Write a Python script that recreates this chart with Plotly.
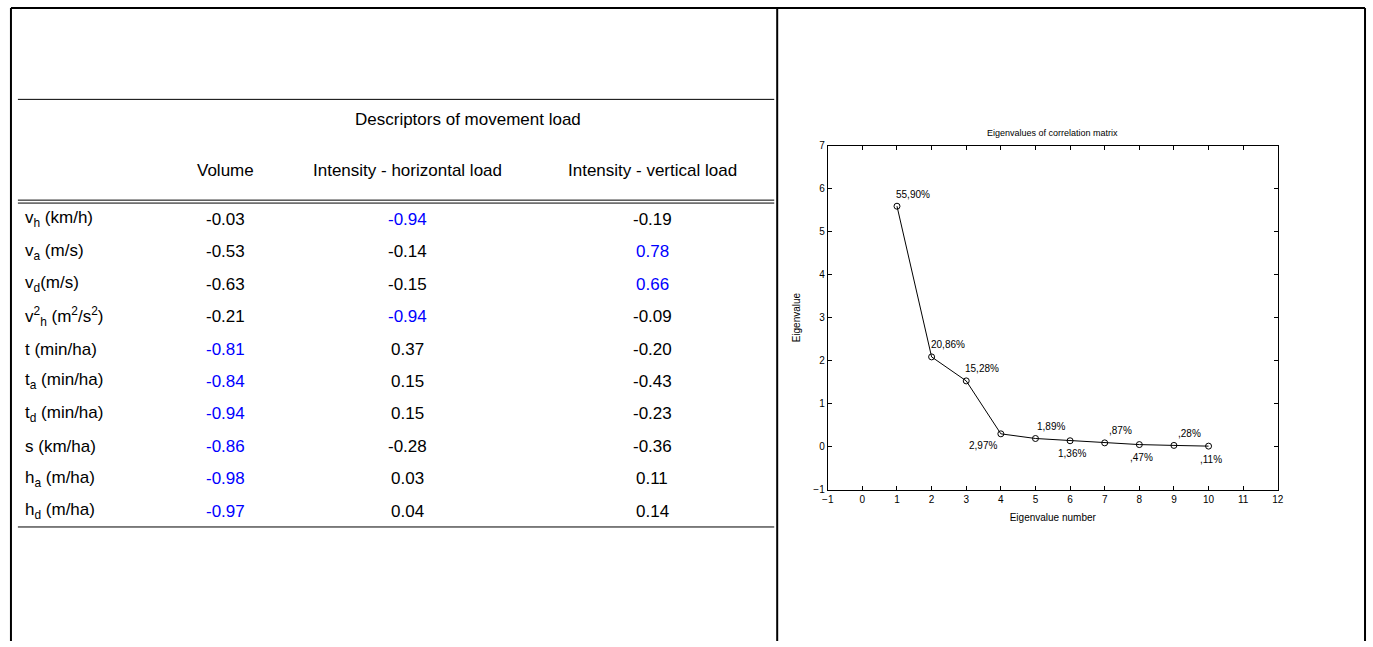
import plotly.graph_objects as go

# table data
row_labels = ["v<sub>h</sub> (km/h)", "v<sub>a</sub> (m/s)", "v<sub>d</sub>(m/s)",
              "v<sup>2</sup><sub>h</sub> (m<sup>2</sup>/s<sup>2</sup>)", "t (min/ha)",
              "t<sub>a</sub> (min/ha)", "t<sub>d</sub> (min/ha)", "s (km/ha)",
              "h<sub>a</sub> (m/ha)", "h<sub>d</sub> (m/ha)"]
col_headers = ["Volume", "Intensity - horizontal load", "Intensity - vertical load"]
volume = [-0.03, -0.53, -0.63, -0.21, -0.81, -0.84, -0.94, -0.86, -0.98, -0.97]
horizontal = [-0.94, -0.14, -0.15, -0.94, 0.37, 0.15, 0.15, -0.28, 0.03, 0.04]
vertical = [-0.19, 0.78, 0.66, -0.09, -0.20, -0.43, -0.23, -0.36, 0.11, 0.14]

# scree plot data
eig_number = [1, 2, 3, 4, 5, 6, 7, 8, 9, 10]
eigenvalues = [5.59, 2.086, 1.528, 0.297, 0.189, 0.136, 0.087, 0.047, 0.028, 0.011]
pct_labels = ["55,90%", "20,86%", "15,28%", "2,97%", "1,89%", "1,36%", ",87%", ",47%", ",28%", ",11%"]
label_above = [True, True, True, False, True, False, True, False, True, False]

W, H = 1373, 647
def px(x): return x / W
def py(y): return 1 - y / H

fig = go.Figure()
fig.add_trace(go.Scatter(x=eig_number, y=eigenvalues, mode="lines+markers",
                         line=dict(color="black", width=1),
                         marker=dict(symbol="circle-open", size=6, color="black", line=dict(width=1)),
                         showlegend=False))

ann = []
for n, v, t, up in zip(eig_number, eigenvalues, pct_labels, label_above):
    if up:
        ann.append(dict(x=n, y=v, xref="x", yref="y", text=t, showarrow=False,
                        xshift=16, yshift=12, font=dict(size=10)))
    elif n == 4:
        ann.append(dict(x=n, y=v, xref="x", yref="y", text=t, showarrow=False,
                        xshift=-18, yshift=-12, font=dict(size=10)))
    else:
        ann.append(dict(x=n, y=v, xref="x", yref="y", text=t, showarrow=False,
                        xshift=2, yshift=-13, font=dict(size=10)))

ann.append(dict(x=px(1056), y=py(130), xref="paper", yref="paper", text="Eigenvalues of correlation matrix",
                showarrow=False, xanchor="center", yanchor="middle", font=dict(size=9)))

# table text
tf = dict(size=17, color="black")
def cell(x, y, text, color="black", xanchor="center"):
    return dict(x=px(x), y=py(y), xref="paper", yref="paper", text=text, showarrow=False,
                xanchor=xanchor, yanchor="middle", font=dict(size=17, color=color))

ann.append(cell(466, 116, "Descriptors of movement load"))
col_x = [221, 405, 652]
for cx, h in zip(col_x, col_headers):
    ann.append(cell(cx, 168, h))
for i, lab in enumerate(row_labels):
    ry = 218 + i * 33
    ann.append(cell(17, ry, lab, xanchor="left"))
    for cx, col in zip(col_x, [volume, horizontal, vertical]):
        val = col[i]
        color = "#0000ff" if abs(val) >= 0.65 else "black"
        ann.append(cell(cx, ry, f"{val:.2f}", color=color))

line = dict(color="black", width=1)
thick = dict(color="black", width=2)
shapes = [
    dict(type="line", xref="paper", yref="paper", x0=px(5), x1=px(5), y0=0, y1=py(3), line=thick),
    dict(type="line", xref="paper", yref="paper", x0=px(5), x1=px(1371), y0=py(3), y1=py(3), line=thick),
    dict(type="line", xref="paper", yref="paper", x0=px(778), x1=px(778), y0=0, y1=py(3), line=thick),
    dict(type="line", xref="paper", yref="paper", x0=px(1371), x1=px(1371), y0=0, y1=py(3), line=thick),
    dict(type="line", xref="paper", yref="paper", x0=px(12), x1=px(775), y0=py(96), y1=py(96), line=line),
    dict(type="line", xref="paper", yref="paper", x0=px(12), x1=px(775), y0=py(198.5), y1=py(198.5), line=line),
    dict(type="line", xref="paper", yref="paper", x0=px(12), x1=px(775), y0=py(201.5), y1=py(201.5), line=line),
    dict(type="line", xref="paper", yref="paper", x0=px(12), x1=px(775), y0=py(531), y1=py(531), line=line),
]

axis = dict(showgrid=False, zeroline=False, showline=True, linecolor="black", linewidth=1, mirror="ticks",
            ticks="inside", ticklen=4, tickcolor="black", tickfont=dict(size=10), dtick=1)
fig.update_layout(
    width=W, height=H, margin=dict(l=0, r=0, t=0, b=0),
    paper_bgcolor="white", plot_bgcolor="white",
    font=dict(family="Liberation Sans, Arial", color="black"),
    xaxis=dict(axis, range=[-1, 12], domain=[px(829), px(1283)],
               title=dict(text="Eigenvalue number", font=dict(size=10), standoff=10)),
    yaxis=dict(axis, range=[-1, 7], domain=[py(493), py(143)],
               title=dict(text="Eigenvalue", font=dict(size=10), standoff=10)),
    annotations=ann, shapes=shapes,
)
fig.write_html("out.html", config={"displayModeBar": False},
               post_script="document.body.style.margin='0';document.body.style.overflow='hidden';")
